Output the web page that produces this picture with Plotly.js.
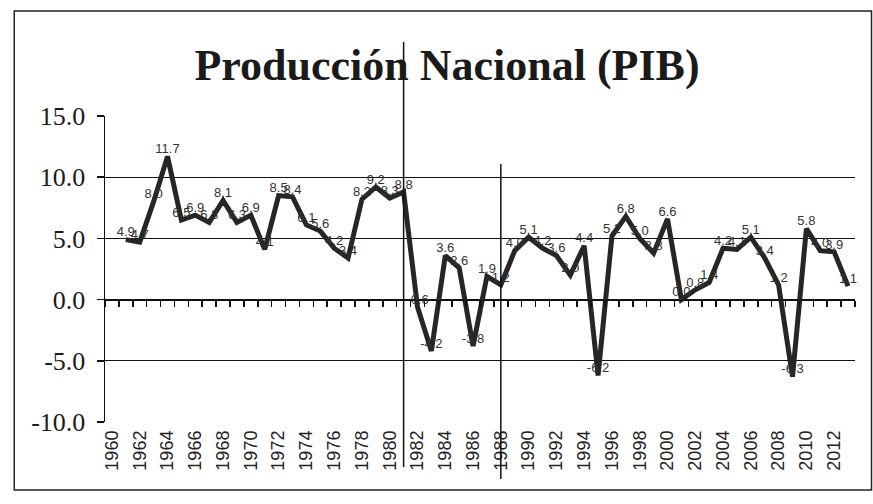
<!DOCTYPE html>
<html>
<head>
<meta charset="utf-8">
<script src="https://cdn.plot.ly/plotly-3.0.1.min.js"></script>
<style>html,body{margin:0;padding:0;background:#fff;}#chart{width:873px;height:504px;}</style>
</head>
<body>
<div id="chart"></div>
<script>
// Años (categorías)
var years = [];
for (var yr = 1960; yr <= 2013; yr++) years.push(yr);

// Crecimiento del PIB (%) — 1960 sin dato
var gdpGrowth = [null,
  4.9, 4.7, 8.0, 11.7, 6.5, 6.9, 6.3, 8.1, 6.3, 6.9,
  4.1, 8.5, 8.4, 6.1, 5.6, 4.2, 3.4, 8.2, 9.2, 8.3,
  8.8, -0.6, -4.2, 3.6, 2.6, -3.8, 1.9, 1.2, 4.0, 5.1,
  4.2, 3.6, 2.0, 4.4, -6.2, 5.2, 6.8, 5.0, 3.8, 6.6,
  0.0, 0.8, 1.4, 4.2, 4.1, 5.1, 3.4, 1.2, -6.3, 5.8,
  4.0, 3.9, 1.1];

// Etiquetas del eje X (cada dos años)
var xTickYears = [];
for (var t = 1960; t <= 2012; t += 2) xTickYears.push(t);
var xTickText = xTickYears.map(String);

// Marcas menores del eje en cero (entre categorías)
var boundaryTicks = [];
for (var b = 1959.5; b <= 2013.5; b += 1) boundaryTicks.push(b);

// Eje Y
var yTickVals = [-10, -5, 0, 5, 10, 15];
var yTickText = ["-10.0", "-5.0", "0.0", "5.0", "10.0", "15.0"];

// Líneas verticales de referencia
var markerYears = [1981, 1988];

var labels = gdpGrowth.map(function(v){ return v === null ? "" : v.toFixed(1); });

var traces = [
  {
    x: years, y: gdpGrowth, type: 'scatter', mode: 'lines+text',
    text: labels, textposition: 'top center',
    textfont: {family: 'Liberation Sans, Arial, sans-serif', size: 13, color: '#333'},
    line: {color: '#262626', width: 5},
    cliponaxis: false, hoverinfo: 'x+y', connectgaps: false
  },
  {
    x: [2000], y: [null], xaxis: 'x2', yaxis: 'y', type: 'scatter', mode: 'lines',
    showlegend: false, hoverinfo: 'skip'
  }
];

var shapes = [
  {type: 'rect', xref: 'paper', yref: 'paper', x0: -0.121, x1: 1.022, y0: -0.222, y1: 1.343,
   line: {color: '#222', width: 1.5}, fillcolor: 'rgba(0,0,0,0)', layer: 'below'},
  {type: 'line', xref: 'x', yref: 'paper', x0: markerYears[0], x1: markerYears[0], y0: -0.147, y1: 1.242,
   line: {color: '#111', width: 1.5}},
  {type: 'line', xref: 'x', yref: 'paper', x0: markerYears[1], x1: markerYears[1], y0: -0.186, y1: 0.843,
   line: {color: '#111', width: 1.5}}
];

var layout = {
  width: 873, height: 504,
  margin: {l: 105, r: 18, t: 116, b: 82},
  paper_bgcolor: '#fff', plot_bgcolor: '#fff',
  showlegend: false,
  title: {
    text: '<b>Producción Nacional (PIB)</b>',
    font: {family: 'Liberation Serif, Times New Roman, serif', size: 44, color: '#1a1a1a'},
    x: 0.512, xanchor: 'center', y: 0.872, yanchor: 'middle'
  },
  xaxis: {
    range: [1959.5, 2013.5],
    tickmode: 'array', tickvals: xTickYears, ticktext: xTickText,
    tickangle: -90, ticks: '', showgrid: false, zeroline: false, showline: false,
    ticklabelstandoff: 4,
    tickfont: {family: 'Liberation Sans, Arial, sans-serif', size: 18, color: '#222'}
  },
  xaxis2: {
    overlaying: 'x', anchor: 'free', position: 0.4, side: 'bottom',
    range: [1959.5, 2013.5],
    tickmode: 'array', tickvals: boundaryTicks, showticklabels: false,
    ticks: 'outside', ticklen: 6, tickwidth: 1.5, tickcolor: '#111',
    showline: true, linecolor: '#111', linewidth: 1.5,
    showgrid: false, zeroline: false
  },
  yaxis: {
    range: [-10, 15],
    tickmode: 'array', tickvals: yTickVals, ticktext: yTickText,
    ticks: 'outside', ticklen: 7, tickwidth: 1.5, tickcolor: '#111',
    showline: true, linecolor: '#111', linewidth: 1.5,
    showgrid: true, gridcolor: '#111', gridwidth: 1.3, zeroline: false,
    ticklabelstandoff: 6,
    tickfont: {family: 'Liberation Serif, Times New Roman, serif', size: 26, color: '#1a1a1a'}
  },
  shapes: shapes
};

Plotly.newPlot('chart', traces, layout, {staticPlot: true});
</script>
</body>
</html>
